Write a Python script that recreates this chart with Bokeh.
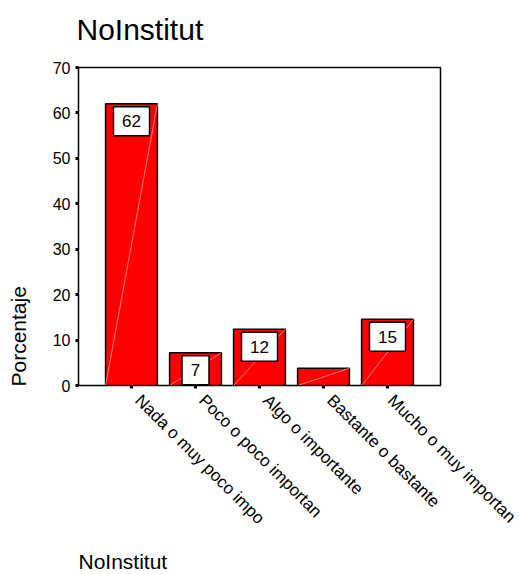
from math import pi
from bokeh.plotting import figure
from bokeh.models import Range1d, FixedTicker, LinearAxis, Title
from bokeh.core.properties import value
from bokeh.embed import file_html
from bokeh.resources import INLINE

# ---- data ----
categories = ["Nada o muy poco impo", "Poco o poco importan", "Algo o importante",
              "Bastante o bastante", "Mucho o muy importan"]
percent = [62.0, 7.2, 12.4, 3.8, 14.6]
bar_labels = ["62", "7", "12", "", "15"]
y_ticks = [0, 10, 20, 30, 40, 50, 60, 70]
chart_title = "NoInstitut"
x_title = "NoInstitut"
y_title = "Porcentaje"

FONT = "Liberation Sans"
W, H = 519, 574
ML, MR, MT, MB = 78, 79, 67, 189
frame_h = H - MT - MB
frame_w = W - ML - MR
ymax = 70
ppu_y = frame_h / ymax
xs = list(range(1, len(categories) + 1))
x0, x1 = 0.172, 5.828
ppu_x = frame_w / (x1 - x0)
bw = 0.81
label_shift = 6.5  # px, tick labels sit slightly right of the tick

p = figure(width=W, height=H, output_backend="svg", toolbar_location=None,
           x_range=Range1d(x0, x1), y_range=Range1d(0, ymax),
           min_border_left=ML, min_border_right=MR,
           min_border_top=MT, min_border_bottom=MB)
p.extra_x_ranges = {"lab": Range1d(x0 - label_shift / ppu_x, x1 - label_shift / ppu_x)}
p.title.text = ""

p.background_fill_color = "white"
p.border_fill_color = "white"
p.outline_line_color = "black"
p.outline_line_width = 1.5
p.xgrid.grid_line_color = None
p.ygrid.grid_line_color = None

# bars
p.vbar(x=xs, top=percent, bottom=0, width=bw, fill_color="#ff0000",
       line_color="black", line_width=1.5)

# faint diagonal artifacts
p.segment(x0=[x - bw / 2 for x in xs], y0=[0] * len(xs),
          x1=[x + bw / 2 for x in xs], y1=percent,
          line_color="#ffb0b0", line_width=0.8, line_alpha=0.9)

# value label boxes
lx, lt, lb, ll, lr, ltxt = [], [], [], [], [], []
for x, v, t in zip(xs, percent, bar_labels):
    if not t:
        continue
    top = v - 3 / ppu_y
    bot = max(top - 29 / ppu_y, 0)
    hw = (len(t) * 9 + 18) / 2 / ppu_x
    lx.append(x); lt.append(top); lb.append(bot)
    ll.append(x - hw); lr.append(x + hw); ltxt.append(t)
p.quad(left=ll, right=lr, top=lt, bottom=lb, fill_color="white",
       line_color="black", line_width=1.5)
p.text(x=lx, y=[(a + b) / 2 for a, b in zip(lt, lb)], text=ltxt,
       text_align="center", text_baseline="middle",
       text_font=value(FONT), text_font_size="17px", text_color="black")


def spacer_axis(size, tick, **kw):
    # an invisible axis whose only job is to take up `size` pixels
    ax = LinearAxis(ticker=FixedTicker(ticks=[tick]), **kw)
    ax.axis_line_color = None
    ax.major_tick_line_color = None
    ax.minor_tick_line_color = None
    ax.major_tick_in = 0
    ax.major_tick_out = size
    ax.minor_tick_in = 0
    ax.minor_tick_out = 0
    ax.major_label_standoff = 0
    ax.major_label_overrides = {tick: ""}
    ax.major_label_text_font_size = "0px"
    return ax


def title(text, size):
    return Title(text=text, align="left", vertical_align="bottom", standoff=0,
                 text_font=FONT, text_font_size=size, text_font_style="normal",
                 text_color="black")


# y axis
ya = p.yaxis[0]
ya.ticker = FixedTicker(ticks=y_ticks)
ya.minor_tick_line_color = None
ya.major_tick_in = 0
ya.major_tick_out = 3
ya.major_tick_line_width = 3
ya.major_label_standoff = 5
ya.major_label_text_font = FONT
ya.major_label_text_font_size = "16px"
ya.major_label_text_color = "black"
ya.axis_line_color = "black"
p.add_layout(spacer_axis(20, 35), "left")
t_left = title(y_title, "21px")
t_left.offset = -1
p.add_layout(t_left, "left")

# x axis: tick marks only
xa = p.xaxis[0]
xa.ticker = FixedTicker(ticks=xs)
xa.major_label_overrides = {x: "" for x in xs}
xa.major_label_text_font_size = "0px"
xa.major_label_standoff = 0
xa.minor_tick_line_color = None
xa.major_tick_in = 0
xa.major_tick_out = 3
xa.major_tick_line_width = 3
xa.axis_line_color = "black"

# x axis: rotated category labels
la = LinearAxis(x_range_name="lab", ticker=FixedTicker(ticks=xs))
la.axis_line_color = None
la.major_tick_line_color = None
la.minor_tick_line_color = None
la.major_tick_in = 0
la.major_tick_out = 0
la.minor_tick_in = 0
la.minor_tick_out = 0
la.major_label_overrides = {x: c for x, c in zip(xs, categories)}
la.major_label_orientation = -pi / 4
la.major_label_standoff = 9
la.major_label_text_font = FONT
la.major_label_text_font_size = "17px"
la.major_label_text_color = "black"
p.add_layout(la, "below")
p.add_layout(spacer_axis(10, 3), "below")
p.add_layout(title(x_title, "21px"), "below")

# chart title
p.add_layout(spacer_axis(22, 3), "above")
t_top = title(chart_title, "30px")
t_top.offset = -2
p.add_layout(t_top, "above")

open("out.html", "w").write(file_html(p, INLINE))
